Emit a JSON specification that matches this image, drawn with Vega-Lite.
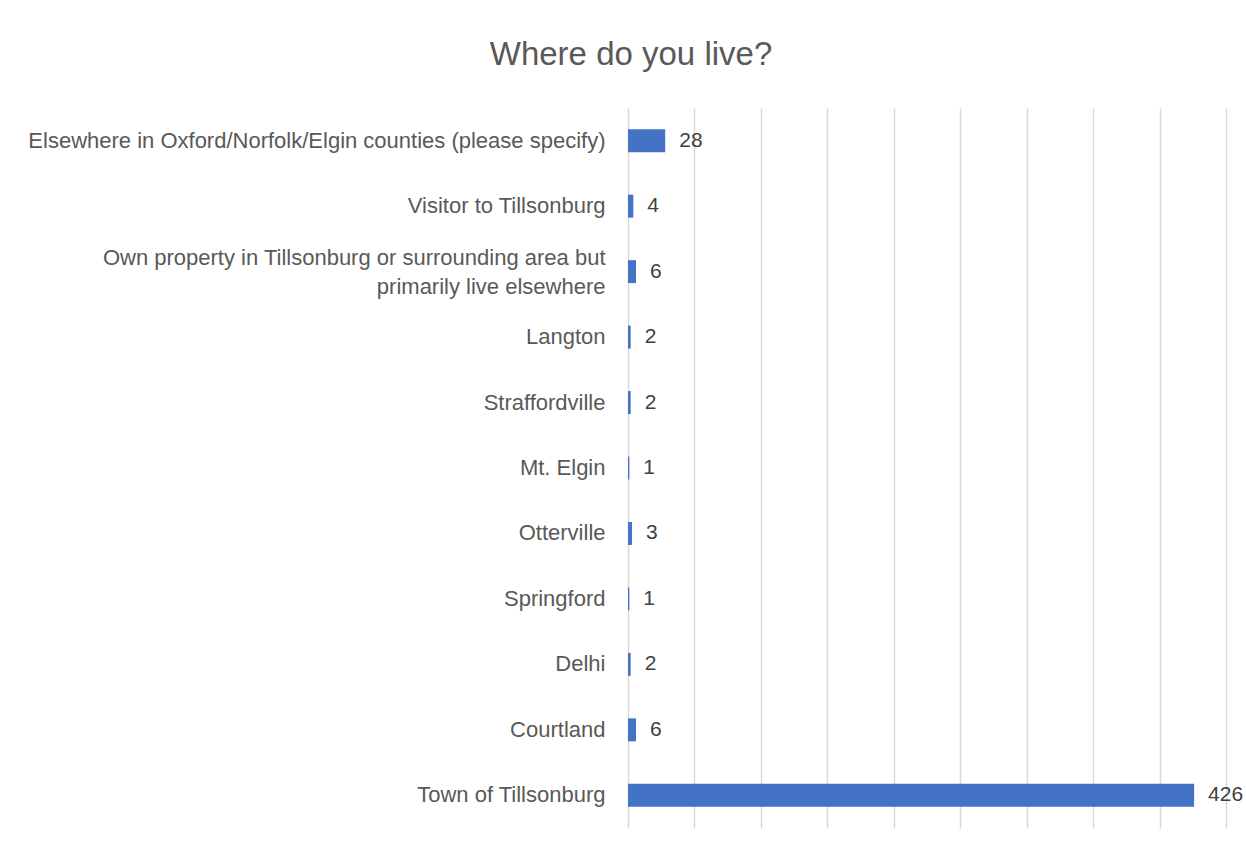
{
  "$schema": "https://vega.github.io/schema/vega-lite/v6.json",
  "autosize": {"type": "none"},
  "width": 598,
  "height": 720,
  "padding": {"left": 628, "top": 108, "right": 20, "bottom": 22},
  "background": "white",
  "config": {
    "view": {"stroke": null},
    "font": "Liberation Sans"
  },
  "title": {
    "text": "Where do you live?",
    "fontSize": 33,
    "fontWeight": "normal",
    "color": "#595959",
    "anchor": "middle",
    "dx": -296,
    "offset": 36
  },
  "data": {
    "values": [
      {"place": "Elsewhere in Oxford/Norfolk/Elgin counties (please specify)", "count": 28},
      {"place": "Visitor to Tillsonburg", "count": 4},
      {"place": "Own property in Tillsonburg or surrounding area but primarily live elsewhere", "count": 6},
      {"place": "Langton", "count": 2},
      {"place": "Straffordville", "count": 2},
      {"place": "Mt. Elgin", "count": 1},
      {"place": "Otterville", "count": 3},
      {"place": "Springford", "count": 1},
      {"place": "Delhi", "count": 2},
      {"place": "Courtland", "count": 6},
      {"place": "Town of Tillsonburg", "count": 426}
    ]
  },
  "encoding": {
    "y": {
      "field": "place",
      "type": "nominal",
      "sort": null,
      "scale": {"paddingInner": 0.65, "paddingOuter": 0.325},
      "axis": {
        "title": null,
        "domain": false,
        "ticks": false,
        "labelFontSize": 22,
        "labelColor": "#595959",
        "labelPadding": 23,
        "labelLimit": 700,
        "labelLineHeight": 29,
        "labelOffset": {
          "condition": {"test": "datum.value == 'Own property in Tillsonburg or surrounding area but primarily live elsewhere'", "value": -14},
          "value": 0
        },
        "labelExpr": "datum.value == 'Own property in Tillsonburg or surrounding area but primarily live elsewhere' ? ['Own property in Tillsonburg or surrounding area but', 'primarily live elsewhere'] : datum.value"
      }
    },
    "x": {
      "field": "count",
      "type": "quantitative",
      "scale": {"domain": [0, 450], "nice": false},
      "axis": {
        "title": null,
        "labels": false,
        "ticks": false,
        "domain": false,
        "values": [0, 50, 100, 150, 200, 250, 300, 350, 400, 450],
        "grid": true,
        "gridColor": "#d9d9d9",
        "gridWidth": 1.5
      }
    }
  },
  "layer": [
    {"mark": {"type": "bar", "color": "#4472C4"}},
    {
      "mark": {"type": "text", "align": "left", "baseline": "middle", "dx": 14, "fontSize": 21, "color": "#404040"},
      "encoding": {"text": {"field": "count", "type": "quantitative"}}
    }
  ]
}
